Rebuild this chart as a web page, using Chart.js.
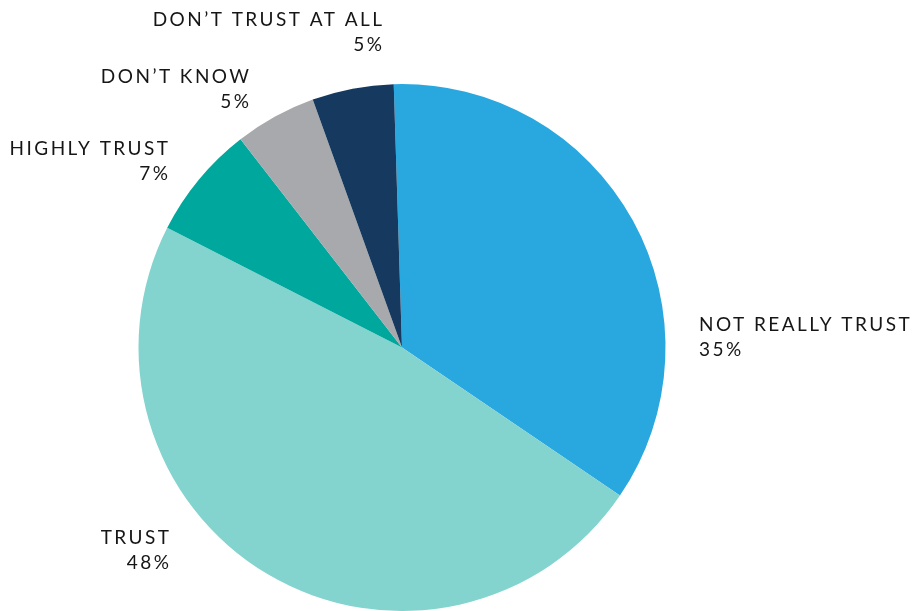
<!DOCTYPE html>
<html>
<head>
<meta charset="utf-8">
<script src="https://cdn.jsdelivr.net/npm/chart.js@4/dist/chart.umd.min.js"></script>
<style>
  html, body { margin: 0; padding: 0; background: #ffffff; }
  #wrap { width: 916px; height: 611px; position: relative; }
</style>
</head>
<body>
<div id="wrap"><canvas id="pie" width="916" height="611"></canvas></div>
<script>
// Survey answers, clockwise from the top
const categories = ['NOT REALLY TRUST', 'TRUST', 'HIGHLY TRUST', 'DON’T KNOW', 'DON’T TRUST AT ALL'];
const shares = [35, 48, 7, 5, 5];
const sliceColors = ['#29a8e0', '#83d3ce', '#00a79d', '#a7a9ac', '#163a5f'];

// Where each caption sits: anchor x, baseline of the first line, alignment
const captionLayout = [
  { x: 699, y: 331, align: 'left' },
  { x: 169, y: 544, align: 'right' },
  { x: 168, y: 155, align: 'right' },
  { x: 249, y: 83, align: 'right' },
  { x: 382, y: 26, align: 'right' }
];

const captionFont = '19px Lato, "Noto Sans", sans-serif';
const captionSpacing = 2.45;
const lineGap = 25;

function drawSpaced(ctx, text, x, y, align) {
  ctx.letterSpacing = captionSpacing + 'px';
  const w = ctx.measureText(text).width - captionSpacing;
  const startX = align === 'right' ? x - w : x;
  ctx.textAlign = 'left';
  ctx.fillText(text, startX, y);
}

const captionPlugin = {
  id: 'captions',
  afterDatasetsDraw(chart) {
    const ctx = chart.ctx;
    const values = chart.data.datasets[0].data;
    ctx.save();
    ctx.font = captionFont;
    ctx.fillStyle = '#161616';
    ctx.textBaseline = 'alphabetic';
    chart.data.labels.forEach((name, i) => {
      const pos = captionLayout[i];
      drawSpaced(ctx, name, pos.x, pos.y, pos.align);
      drawSpaced(ctx, values[i] + '%', pos.x, pos.y + lineGap, pos.align);
    });
    ctx.restore();
  }
};

new Chart(document.getElementById('pie'), {
  type: 'pie',
  data: {
    labels: categories,
    datasets: [{
      data: shares,
      backgroundColor: sliceColors,
      borderWidth: 0
    }]
  },
  options: {
    responsive: false,
    animation: false,
    rotation: -1.8,
    layout: { padding: { left: 138.5, right: 250.5, top: 84, bottom: 0 } },
    plugins: {
      legend: { display: false },
      tooltip: { enabled: false }
    }
  },
  plugins: [captionPlugin]
});
</script>
</body>
</html>
